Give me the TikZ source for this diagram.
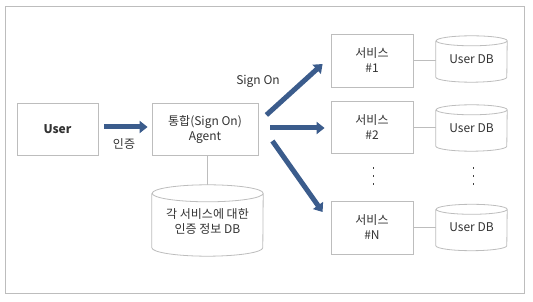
\documentclass[tikz,border=0pt]{standalone}
\usepackage{fontspec}
\setmainfont{Noto Sans CJK KR}
\usetikzlibrary{arrows.meta,calc}
\definecolor{arrowblue}{HTML}{3B5C8C}
\definecolor{linegray}{HTML}{BDBDBD}
\definecolor{textgray}{HTML}{333333}
\tikzset{
  box/.style={draw=linegray, line width=0.8pt, fill=white, minimum width=#1, minimum height=52pt, inner sep=0pt, align=center, text=textgray, font=\fontsize{12}{15}\selectfont},
  dbslot/.style={minimum width=#1, inner sep=0pt, align=center, text=textgray, font=\fontsize{12}{15}\selectfont},
  conn/.style={draw=linegray, line width=0.8pt},
  bigarrow/.style={draw=arrowblue, line width=5pt, -{Triangle[width=12pt,length=8pt]}},
  lbl/.style={text=textgray, font=\fontsize{12}{15}\selectfont, inner sep=0pt},
}
% cylinder drawer: name, ry
\newcommand{\drawcyl}[2]{%
  \draw[conn, fill=white]
    ($(#1.north west)+(0,-#2)$) -- ($(#1.south west)+(0,#2)$)
    arc[start angle=180, end angle=360, x radius={0.5*(\pgfkeysvalueof{/tikz/cylw})}, y radius=#2]
    -- ($(#1.north east)+(0,-#2)$)
    arc[start angle=0, end angle=180, x radius={0.5*(\pgfkeysvalueof{/tikz/cylw})}, y radius=#2]
    arc[start angle=180, end angle=360, x radius={0.5*(\pgfkeysvalueof{/tikz/cylw})}, y radius=#2];
}
\pgfkeyssetvalue{/tikz/cylw}{71}
\begin{document}
\begin{tikzpicture}[x=1pt,y=1pt]
\useasboundingbox (0,0) rectangle (533,302);
\draw[draw=linegray, line width=0.8pt] (5,9) rectangle (524,296);

% nodes
\node[box=81pt] (user) at (57.5,173) {\textbf{User}};
\node[box=106pt] (agent) at (205,173) {통합(Sign On)\\Agent};
\node[dbslot=111pt, minimum height=71pt] (db0) at (207.5,81.5) {};
\node[box=82pt, minimum height=53pt] (svc1) at (372,241.5) {서비스\\\#1};
\node[box=82pt] (svc2) at (372,175) {서비스\\\#2};
\node[box=82pt, minimum height=53pt] (svcN) at (372,74.5) {서비스\\\#N};
\node[dbslot=71pt, minimum height=46pt] (udb1) at (471.5,243) {};
\node[dbslot=71pt, minimum height=46pt] (udb2) at (471.5,174) {};
\node[dbslot=71pt, minimum height=46pt] (udbN) at (471.5,74.5) {};

% connectors (gray)
\draw[conn] (db0.north |- agent.south) -- (db0.north);
\draw[conn] (svc1.east) -- (udb1.west |- svc1.east);
\draw[conn] (svc2.east) -- (udb2.west |- svc2.east);
\draw[conn] (svcN.east) -- (udbN.west |- svcN.east);

% cylinders
\pgfkeyssetvalue{/tikz/cylw}{111}
\drawcyl{db0}{8.5}
\pgfkeyssetvalue{/tikz/cylw}{71}
\drawcyl{udb1}{5}
\drawcyl{udb2}{5}
\drawcyl{udbN}{5}

% cylinder texts
\node[lbl, align=center] (db0t) at ($(db0.center)+(0,-1)$) {\fontsize{12}{15.5}\selectfont 각 서비스에 대한\\인증 정보 DB};
\node[lbl] (udb1t) at ($(udb1.center)+(0,0)$) {User DB};
\node[lbl] (udb2t) at ($(udb2.center)+(0,0)$) {User DB};
\node[lbl] (udbNt) at ($(udbN.center)+(0,0)$) {User DB};

% blue arrows
\coordinate (a1s) at ($(agent.east)+(8,14)$);
\coordinate (a1e) at ($(svc1.west)+(-8,-3.5)$);
\coordinate (a2s) at ($(agent.east)+(12,1)$);
\coordinate (a2e) at ($(svc2.west)+(-6,-1)$);
\coordinate (a3s) at ($(agent.east)+(14,-12)$);
\coordinate (a3e) at ($(svcN.west)+(-8,15.5)$);
\draw[bigarrow] ($(user.east)+(6,2)$) -- ($(agent.west)+(-4,2)$);
\draw[bigarrow] (a1s) -- (a1e);
\draw[bigarrow] (a2s) -- (a2e);
\draw[bigarrow] (a3s) -- (a3e);

% labels
\node[lbl] (l1) at (124,158) {인증};
\node[lbl] (l2) at (258,221) {Sign On};

% vertical dots
\foreach \xx in {373,473}{
  \foreach \yy in {134,126,118}{
    \fill[black!75] (\xx-0.45,\yy-0.9) rectangle (\xx+0.45,\yy+0.9);
  }
}
\end{tikzpicture}
\end{document}
